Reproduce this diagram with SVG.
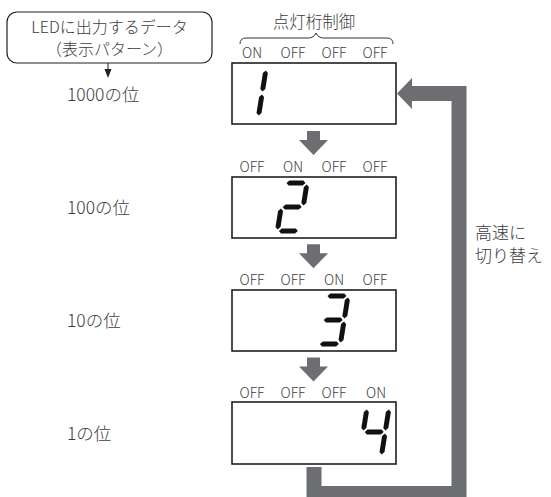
<svg xmlns="http://www.w3.org/2000/svg" xmlns:xlink="http://www.w3.org/1999/xlink" width="551" height="497" viewBox="0 0 551 497">
<style>
.t{font-family:"Noto Sans CJK JP","Noto Sans",sans-serif;fill:#3c3c3c;font-weight:300;}
.lbl{font-size:17.5px;}
.sw{font-size:14px;text-anchor:middle;}
.box{fill:#fff;stroke:#231f20;stroke-width:1.6;}
.seg{fill:#111;}
.arr{fill:#6d6e71;}
</style>
<defs>
<polygon id="sa" points="1.5,0 4,-2.5 18,-2.5 20.5,0 18,2.5 4,2.5"/>
<polygon id="sb" points="22,1.5 24.5,4 24.5,20 22,22.5 19.5,20 19.5,4"/>
<polygon id="sc" points="22,25.5 24.5,28 24.5,44 22,46.5 19.5,44 19.5,28"/>
<polygon id="sd" points="1.5,48 4,45.5 18,45.5 20.5,48 18,50.5 4,50.5"/>
<polygon id="se" points="0,25.5 2.5,28 2.5,44 0,46.5 -2.5,44 -2.5,28"/>
<polygon id="sf" points="0,1.5 2.5,4 2.5,20 0,22.5 -2.5,20 -2.5,4"/>
<polygon id="sg" points="1.5,24 4,21.5 18,21.5 20.5,24 18,26.5 4,26.5"/>
<polygon id="down" points="307,131 320,131 320,140 328,140 313.5,155 299,140 307,140"/>
</defs>

<g id="source">
<rect x="7" y="12" width="205" height="51" rx="10" fill="#fff" stroke="#231f20" stroke-width="1.2"/>
<text class="t" font-size="16" text-anchor="middle"><tspan x="109.5" y="32.5">LEDに出力するデータ</tspan><tspan x="109.5" y="55">（表示パターン）</tspan></text>
</g>

<g id="header">
<text class="t" x="314" y="28" font-size="16.5" text-anchor="middle">点灯桁制御</text>
<path d="M240,44 Q240,38 246,38 L308,38 Q314,38 316,33 Q318,38 324,38 L387,38 Q393,38 393,44" fill="none" stroke="#333" stroke-width="1"/>
</g>

<g id="labels">
<text class="t lbl" x="67" y="101">1000の位</text>
<text class="t lbl" x="67" y="214">100の位</text>
<text class="t lbl" x="67" y="327">10の位</text>
<text class="t lbl" x="67" y="440">1の位</text>
</g>

<g id="display1">
<text class="t sw" x="252" y="58">ON</text><text class="t sw" x="293" y="58">OFF</text><text class="t sw" x="334" y="58">OFF</text><text class="t sw" x="375" y="58">OFF</text>
<rect class="box" x="232" y="63" width="164" height="61"/>
<g class="seg" transform="translate(244,69) skewX(-9)"><use xlink:href="#sb"/><use xlink:href="#sc"/></g>
</g>

<g id="display2">
<text class="t sw" x="252" y="172">OFF</text><text class="t sw" x="293" y="172">ON</text><text class="t sw" x="334" y="172">OFF</text><text class="t sw" x="375" y="172">OFF</text>
<rect class="box" x="232" y="177" width="164" height="61"/>
<g class="seg" transform="translate(285,183) skewX(-9)"><use xlink:href="#sa"/><use xlink:href="#sb"/><use xlink:href="#sg"/><use xlink:href="#se"/><use xlink:href="#sd"/></g>
</g>

<g id="display3">
<text class="t sw" x="252" y="285">OFF</text><text class="t sw" x="293" y="285">OFF</text><text class="t sw" x="334" y="285">ON</text><text class="t sw" x="375" y="285">OFF</text>
<rect class="box" x="232" y="290" width="164" height="61"/>
<g class="seg" transform="translate(326,296) skewX(-9)"><use xlink:href="#sa"/><use xlink:href="#sb"/><use xlink:href="#sg"/><use xlink:href="#sc"/><use xlink:href="#sd"/></g>
</g>

<g id="display4">
<text class="t sw" x="252" y="398">OFF</text><text class="t sw" x="293" y="398">OFF</text><text class="t sw" x="334" y="398">OFF</text><text class="t sw" x="376" y="398">ON</text>
<rect class="box" x="232" y="402" width="164" height="62"/>
<g class="seg" transform="translate(367,408) skewX(-9)"><use xlink:href="#sf"/><use xlink:href="#sb"/><use xlink:href="#sg"/><use xlink:href="#sc"/></g>
</g>

<g id="loop-label">
<text class="t" font-size="17"><tspan x="475" y="239">高速に</tspan><tspan x="475" y="262">切り替え</tspan></text>
</g>

<g id="connectors">
<line x1="108" y1="63" x2="108" y2="70" stroke="#231f20" stroke-width="1"/>
<polygon points="104.5,69 111.5,69 108,78" fill="#231f20"/>
<use xlink:href="#down" class="arr"/>
<use xlink:href="#down" class="arr" transform="translate(0,113.3)"/>
<use xlink:href="#down" class="arr" transform="translate(0,226.6)"/>
<polyline points="314,467 314,493.5 459,493.5 459,93.5 410,93.5" fill="none" stroke="#6d6e71" stroke-width="15" stroke-linejoin="miter"/>
<polygon class="arr" points="412,78 397,93.5 412,109"/>
</g>
</svg>
